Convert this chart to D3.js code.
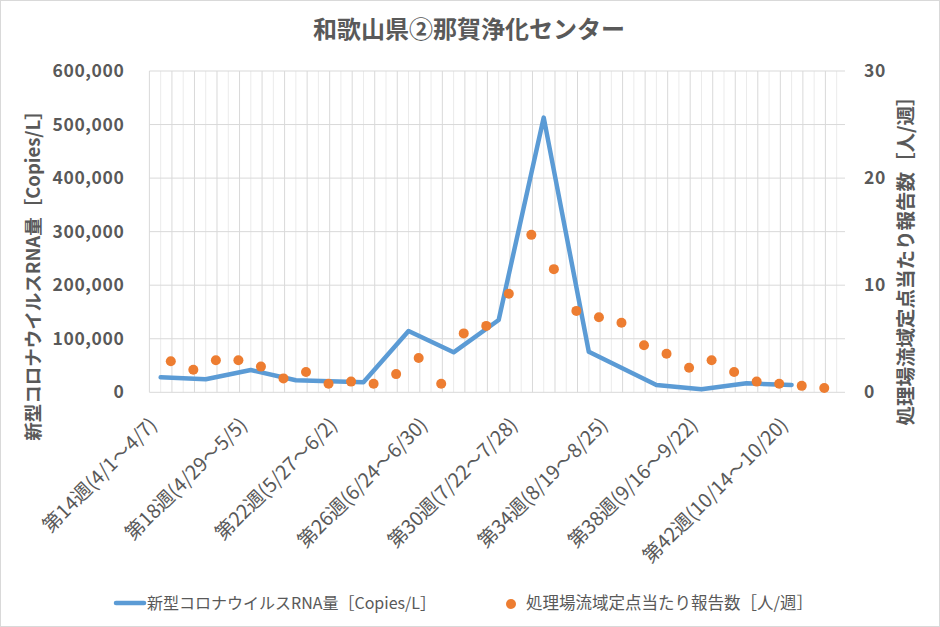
<!DOCTYPE html>
<html>
<head>
<meta charset="utf-8">
<script src="https://cdn.jsdelivr.net/npm/d3@7/dist/d3.min.js"></script>
<style>
  html, body { margin: 0; padding: 0; background: #fff; }
  svg { display: block; font-family: "Noto Sans CJK JP", "Noto Sans", sans-serif; }
</style>
</head>
<body>
<svg id="chart" width="940" height="627"></svg>
<script>
// ---- data ----
const chartTitle = "和歌山県②那賀浄化センター";
const leftTitle = "新型コロナウイルスRNA量［Copies/L］";
const rightTitle = "処理場流域定点当たり報告数［人/週］";

const rnaWeeks = [14, 16, 18, 20, 23, 25, 27, 29, 31, 33, 36, 38, 40, 42];
const rnaValues = [28000, 24300, 41600, 22400, 18700, 114500, 74700, 135000, 513000, 75800, 13600, 5600, 16800, 13600];

const reportWeeks = [14, 15, 16, 17, 18, 19, 20, 21, 22, 23, 24, 25, 26, 27, 28, 29, 30, 31, 32, 33, 34, 35, 36, 37, 38, 39, 40, 41, 42, 43];
const reportValues = [2.9, 2.1, 3.0, 3.0, 2.4, 1.3, 1.9, 0.8, 1.0, 0.8, 1.7, 3.2, 0.8, 5.5, 6.2, 9.2, 14.7, 11.5, 7.6, 7.0, 6.5, 4.4, 3.6, 2.3, 3.0, 1.9, 1.0, 0.8, 0.6, 0.4];

const gridWeeks = [14, 15, 16, 17, 18, 19, 20, 21, 22, 23, 24, 25, 26, 27, 28, 29, 30, 31, 32, 33, 34, 35, 36, 37, 38, 39, 40, 41, 42, 43, 44];

const labelWeeks = [14, 18, 22, 26, 30, 34, 38, 42];
const labelTexts = ["第14週(4/1～4/7)", "第18週(4/29～5/5)", "第22週(5/27～6/2)", "第26週(6/24～6/30)",
                    "第30週(7/22～7/28)", "第34週(8/19～8/25)", "第38週(9/16～9/22)", "第42週(10/14～10/20)"];

const leftTicks = [0, 100000, 200000, 300000, 400000, 500000, 600000];
const rightTicks = [0, 10, 20, 30];

const legendLabels = ["新型コロナウイルスRNA量［Copies/L］", "処理場流域定点当たり報告数［人/週］"];

// ---- layout ----
const W = 940, H = 627;
const plot = { left: 149.4, right: 845, top: 71, bottom: 392.3 };
const textColor = "#595959";
const lineColor = "#5b9bd5";
const dotColor = "#ed7d31";

const svg = d3.select("#chart");

svg.append("rect").attr("x", 0.5).attr("y", 0.5).attr("width", W - 1).attr("height", H - 1)
  .attr("fill", "#fff").attr("stroke", "#d9d9d9");

const x = d3.scaleLinear().domain([13.5, 44.37]).range([plot.left, plot.right]);
const yL = d3.scaleLinear().domain([0, 600000]).range([plot.bottom, plot.top]);
const yR = d3.scaleLinear().domain([0, 30]).range([plot.bottom, plot.top]);

// vertical gridlines: light at week boundaries, darker at mid-week
const g = svg.append("g");
g.selectAll("line.vl").data(gridWeeks).join("line")
  .attr("x1", d => x(d)).attr("x2", d => x(d))
  .attr("y1", plot.top).attr("y2", plot.bottom)
  .attr("stroke", "#ebebeb").attr("stroke-width", 1);
g.selectAll("line.vd").data(reportWeeks).join("line")
  .attr("x1", d => x(d + 0.5)).attr("x2", d => x(d + 0.5))
  .attr("y1", plot.top).attr("y2", plot.bottom)
  .attr("stroke", "#d9d9d9").attr("stroke-width", 1);
g.append("line").attr("x1", plot.left).attr("x2", plot.left)
  .attr("y1", plot.top).attr("y2", plot.bottom).attr("stroke", "#d9d9d9");

// horizontal gridlines
g.selectAll("line.h").data(leftTicks).join("line")
  .attr("x1", plot.left).attr("x2", plot.right)
  .attr("y1", d => yL(d)).attr("y2", d => yL(d))
  .attr("stroke", "#d9d9d9").attr("stroke-width", 1);

// left axis
const axL = svg.append("g").attr("transform", `translate(${plot.left},0)`)
  .call(d3.axisLeft(yL).tickValues(leftTicks).tickFormat(d3.format(",")).tickSize(0).tickPadding(25));
axL.select(".domain").remove();
axL.selectAll("text").attr("fill", textColor).attr("font-size", 17.5).attr("font-weight", "bold")
  .attr("letter-spacing", 0.6)
  .attr("font-family", "'Noto Sans CJK JP', sans-serif");

// right axis
const axR = svg.append("g").attr("transform", `translate(${plot.right},0)`)
  .call(d3.axisRight(yR).tickValues(rightTicks).tickSize(0).tickPadding(19));
axR.select(".domain").remove();
axR.selectAll("text").attr("fill", textColor).attr("font-size", 17.5).attr("font-weight", "bold")
  .attr("letter-spacing", 0.6)
  .attr("font-family", "'Noto Sans CJK JP', sans-serif");

// bottom axis labels
const axB = svg.append("g").attr("transform", `translate(0,${plot.bottom})`)
  .call(d3.axisBottom(x).tickValues(labelWeeks).tickFormat((d, i) => labelTexts[i]).tickSize(0).tickPadding(0));
axB.select(".domain").remove();
axB.selectAll("text")
  .attr("fill", textColor).attr("font-size", 19.5)
  .attr("font-family", "'Noto Sans CJK JP', sans-serif")
  .attr("text-anchor", "end")
  .attr("dy", null).attr("y", 0)
  .attr("transform", "translate(-3,34) rotate(-45)");

// line series
const line = d3.line().x((d, i) => x(rnaWeeks[i])).y(d => yL(d));
svg.append("path").datum(rnaValues)
  .attr("d", line).attr("fill", "none")
  .attr("stroke", lineColor).attr("stroke-width", 4.5)
  .attr("stroke-linejoin", "round").attr("stroke-linecap", "round");

// dot series
svg.append("g").selectAll("circle").data(reportValues).join("circle")
  .attr("cx", (d, i) => x(reportWeeks[i] + 0.45))
  .attr("cy", d => yR(d))
  .attr("r", 5)
  .attr("fill", dotColor);

// title
svg.append("text").attr("x", 469).attr("y", 38).attr("text-anchor", "middle")
  .attr("fill", textColor).attr("font-size", 24).attr("font-weight", "bold")
  .text(chartTitle);

// axis titles
svg.append("text").attr("transform", "translate(40,271) rotate(-90)")
  .attr("text-anchor", "middle").attr("fill", textColor)
  .attr("font-size", 18.5).attr("font-weight", "bold").text(leftTitle);
svg.append("text").attr("transform", "translate(913,256) rotate(-90)")
  .attr("text-anchor", "middle").attr("fill", textColor)
  .attr("font-size", 19.5).attr("font-weight", "bold").text(rightTitle);

// legend
const lg = svg.append("g");
lg.append("line").attr("x1", 116).attr("x2", 144).attr("y1", 603).attr("y2", 603)
  .attr("stroke", lineColor).attr("stroke-width", 4.5).attr("stroke-linecap", "round");
lg.append("text").attr("x", 147).attr("y", 609).attr("fill", textColor)
  .attr("font-size", 16).text(legendLabels[0]);
lg.append("circle").attr("cx", 511).attr("cy", 604).attr("r", 5).attr("fill", dotColor);
lg.append("text").attr("x", 526).attr("y", 609).attr("fill", textColor)
  .attr("font-size", 16.5).text(legendLabels[1]);
</script>
</body>
</html>
